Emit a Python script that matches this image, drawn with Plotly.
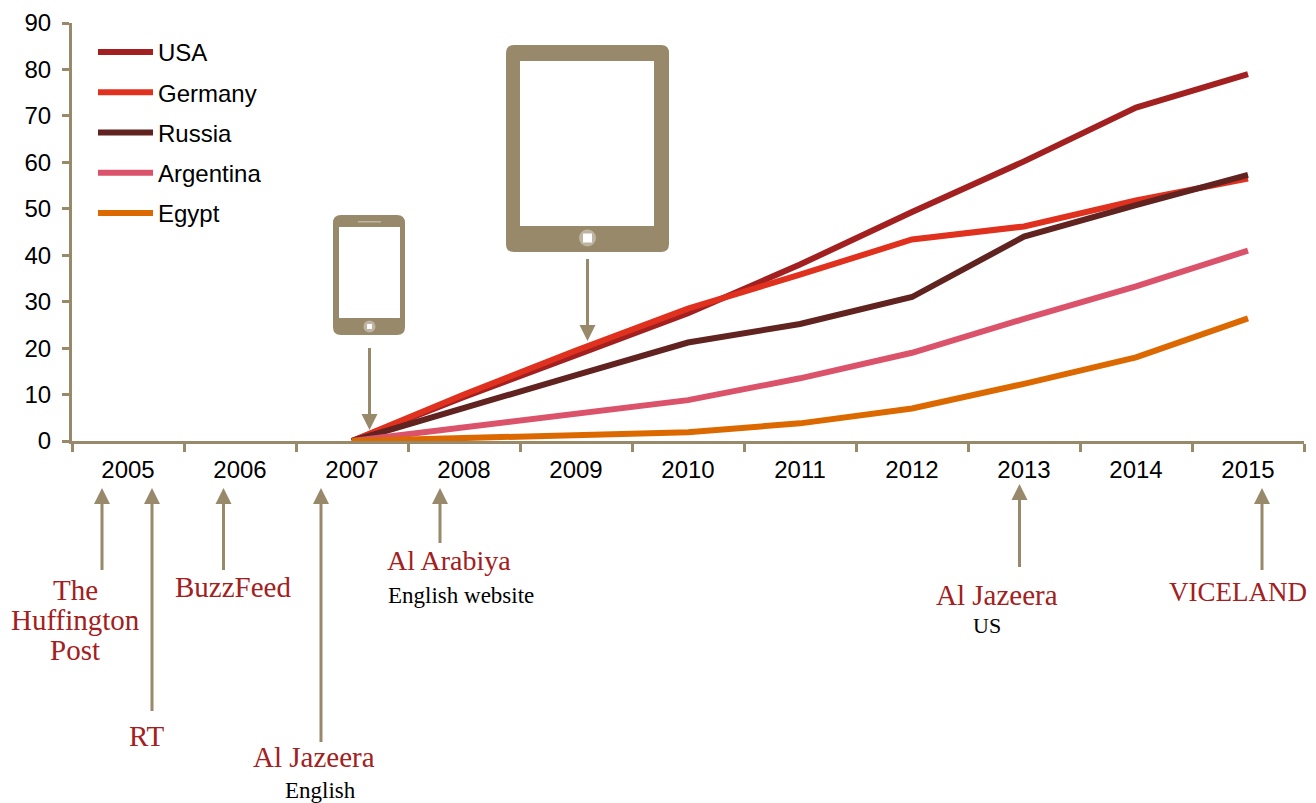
import plotly.graph_objects as go

years = [2007, 2008, 2009, 2010, 2011, 2012, 2013, 2014, 2015]
usa = [0, 9.5, 18.5, 27.5, 38, 49.3, 60.2, 71.8, 79]
germany = [0, 10, 19.5, 28.5, 35.8, 43.4, 46.2, 51.8, 56.5]
russia = [0, 7.2, 14.2, 21.2, 25.2, 31, 44, 50.8, 57.3]
argentina = [0, 3, 6, 8.8, 13.5, 19, 26.3, 33.3, 41]
egypt = [0, 0.6, 1.3, 1.9, 3.8, 7, 12.3, 18, 26.4]
tick_years = list(range(2005, 2016))
boundaries = [y - 0.5 for y in tick_years] + [2015.5]
y_ticks = list(range(0, 100, 10))

W, H = 1316, 803
L, R, T, B = 72, 1304, 23, 441
TAN = "#98896b"
LIGHT = "#bdb4a2"
RED = "#a32020"
SANS = "Liberation Sans, Arial, sans-serif"
SERIF = "Liberation Serif, Georgia, serif"


def px(x):
    return (x - L) / (R - L)


def py(y):
    return (B - y) / (B - T)


def P(x, y):
    return f"{px(x):.5f},{py(y):.5f}"


def poly(points):
    return "M " + " L ".join(P(x, y) for x, y in points) + " Z"


def round_rect(x0, y0, x1, y1, r):
    return (f"M {P(x0 + r, y0)} L {P(x1 - r, y0)} Q {P(x1, y0)} {P(x1, y0 + r)} "
            f"L {P(x1, y1 - r)} Q {P(x1, y1)} {P(x1 - r, y1)} "
            f"L {P(x0 + r, y1)} Q {P(x0, y1)} {P(x0, y1 - r)} "
            f"L {P(x0, y0 + r)} Q {P(x0, y0)} {P(x0 + r, y0)} Z")


shapes = []


def fill(path, color):
    shapes.append(dict(type="path", xref="paper", yref="paper", path=path,
                       fillcolor=color, line=dict(width=0), layer="above"))


def box(x0, y0, x1, y1, color):
    fill(poly([(x0, y0), (x1, y0), (x1, y1), (x0, y1)]), color)


def circle(cx, cy, r, color):
    shapes.append(dict(type="circle", xref="paper", yref="paper",
                       x0=px(cx - r), x1=px(cx + r), y0=py(cy + r), y1=py(cy - r),
                       fillcolor=color, line=dict(width=0), layer="above"))


def arrow(x, tip, tail):
    d = 1 if tail > tip else -1
    box(x - 1.5, tip + d * 14, x + 1.5, tail, TAN)
    fill(poly([(x, tip), (x - 8, tip + d * 16), (x + 8, tip + d * 16)]), TAN)


# phone icon
fill(round_rect(333, 215, 405, 335, 8), TAN)
box(339, 227, 400, 318, "white")
box(358, 221, 381, 222.5, LIGHT)
circle(369.5, 326.5, 6, LIGHT)
box(367, 324, 372, 329, "white")
# tablet icon
fill(round_rect(506, 45, 669, 252, 8), TAN)
box(520, 61, 654, 226, "white")
circle(587.5, 238, 8.5, LIGHT)
box(583, 233.5, 592, 242.5, "white")

arrow(369.5, 430, 348)
arrow(587.5, 341, 259)
arrow(102, 488, 570)
arrow(152, 488, 711)
arrow(223.5, 488, 570)
arrow(321, 488, 742)
arrow(440, 488, 543)
arrow(1019.5, 484, 567)
arrow(1262, 488, 570)

labels = [
    ("The", 75, 590, RED, 29),
    ("Huffington", 75, 620, RED, 29),
    ("Post", 75, 650, RED, 29),
    ("RT", 147, 736, RED, 29),
    ("BuzzFeed", 233, 587, RED, 29),
    ("Al Jazeera", 314, 757, RED, 29),
    ("English", 320, 790, "black", 23),
    ("Al Arabiya", 449, 560, RED, 28),
    ("English website", 461, 595, "black", 23),
    ("Al Jazeera", 997, 595, RED, 29),
    ("US", 987, 625, "black", 22),
    ("VICELAND", 1238, 592, RED, 27),
]
annotations = [
    dict(text=t, x=px(x), y=py(y), xref="paper", yref="paper", showarrow=False,
         xanchor="center", yanchor="middle", font=dict(family=SERIF, size=s, color=c))
    for t, x, y, c, s in labels
]

fig = go.Figure()
series = [("USA", usa, "#a32020"), ("Germany", germany, "#e0301e"),
          ("Russia", russia, "#602320"), ("Argentina", argentina, "#db536a"),
          ("Egypt", egypt, "#dc6900")]
for name, vals, col in series:
    fig.add_trace(go.Scatter(x=years, y=vals, name=name, mode="lines", legendgroup=name,
                             line=dict(color=col, width=6), cliponaxis=False))

fig.update_layout(
    width=W, height=H, autosize=False,
    margin=dict(l=L, r=W - R, t=T, b=H - B, pad=0),
    paper_bgcolor="white", plot_bgcolor="white",
    font=dict(family=SANS, size=24, color="black"),
    shapes=shapes, annotations=annotations,
    legend=dict(x=px(93), y=py(30), xanchor="left", yanchor="top", itemwidth=55,
                tracegroupgap=6, bgcolor="rgba(0,0,0,0)", font=dict(family=SANS, size=24)),
    xaxis=dict(range=[2004.5, 2015.5], tickvals=tick_years, ticktext=[str(y) for y in tick_years],
               ticks="", showgrid=False, zeroline=False, showline=True, linecolor=TAN, linewidth=3,
               ticklabelstandoff=5, automargin=False,
               minor=dict(tickvals=boundaries, ticks="outside", ticklen=8, tickwidth=2.5,
                          tickcolor=TAN, showgrid=False)),
    yaxis=dict(range=[0, 90], tickvals=y_ticks, ticks="outside", ticklen=7, tickwidth=2.5,
               tickcolor=TAN, showgrid=False, zeroline=False, showline=True, linecolor=TAN,
               linewidth=3, ticklabelstandoff=6, automargin=False),
)
fig.write_html("out.html", post_script="document.body.style.margin='0';document.documentElement.style.overflow='hidden';",
               config=dict(displayModeBar=False))
